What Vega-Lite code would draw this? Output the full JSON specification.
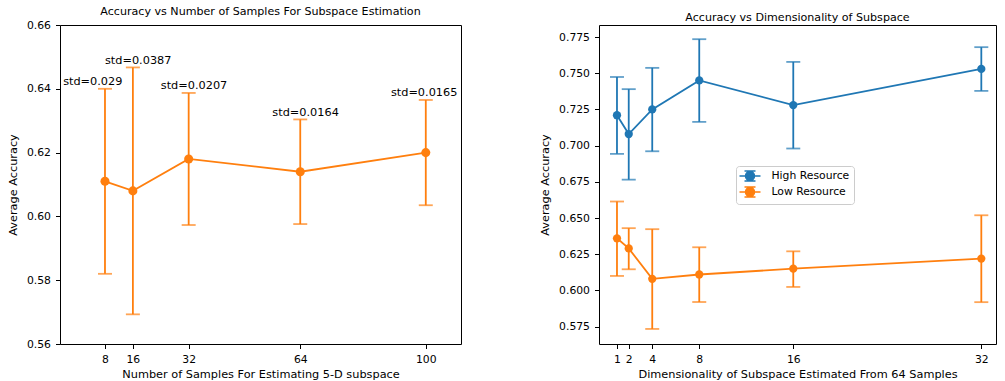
{
  "$schema": "https://vega.github.io/schema/vega-lite/v6.json",
  "padding": {"left": 6, "top": 5, "right": 5, "bottom": 0},
  "background": "white",
  "config": {
    "font": "DejaVu Sans",
    "view": {"stroke": "black", "strokeWidth": 1},
    "axis": {
      "labelFont": "DejaVu Sans", "titleFont": "DejaVu Sans",
      "labelFontSize": 10.8, "titleFontSize": 11.3, "titleFontWeight": "normal",
      "labelColor": "black", "titleColor": "black", "tickColor": "black", "labelOverlap": false,
      "domain": false, "grid": false, "tickSize": 4.5, "labelPadding": 5, "titlePadding": 8
    },
    "axisX": {"titlePadding": 4},
    "legend": {
      "title": null, "orient": "none", "legendX": 676, "legendY": 141, "padding": 4, "strokeColor": "#cccccc", "fillColor": "white", "cornerRadius": 3,
      "labelFont": "DejaVu Sans", "labelFontSize": 10.8, "labelColor": "black", "labelOffset": 15.5, "rowPadding": 0, "symbolOffset": 4,
      "symbolType": "M-2.1,0H2.1M0,-1V1M-1.1,-1H1.1M-1.1,1H1.1M0.9,0A0.9,0.9 0 1,1 -0.9,0A0.9,0.9 0 1,1 0.9,0Z",
      "symbolSize": 100, "symbolStrokeWidth": 1.5
    },
    "title": {"font": "DejaVu Sans", "fontSize": 11.1, "fontWeight": "normal", "color": "black", "offset": 2}
  },
  "datasets": {
    "left": [
      {"n": 8, "mean": 0.611, "lo": 0.582, "hi": 0.640, "label": "std=0.029", "label_x": -4},
      {"n": 16, "mean": 0.608, "lo": 0.5693, "hi": 0.6467, "label": "std=0.0387", "label_x": 8},
      {"n": 32, "mean": 0.618, "lo": 0.5973, "hi": 0.6387, "label": "std=0.0207", "label_x": 24},
      {"n": 64, "mean": 0.614, "lo": 0.5976, "hi": 0.6304, "label": "std=0.0164", "label_x": 56},
      {"n": 100, "mean": 0.620, "lo": 0.6035, "hi": 0.6365, "label": "std=0.0165", "label_x": 90}
    ],
    "right": [
      {"series": "High Resource", "d": 1, "mean": 0.721, "lo": 0.6943, "hi": 0.7474},
      {"series": "High Resource", "d": 2, "mean": 0.708, "lo": 0.6765, "hi": 0.7390},
      {"series": "High Resource", "d": 4, "mean": 0.725, "lo": 0.6961, "hi": 0.7537},
      {"series": "High Resource", "d": 8, "mean": 0.745, "lo": 0.7164, "hi": 0.7735},
      {"series": "High Resource", "d": 16, "mean": 0.728, "lo": 0.6980, "hi": 0.7578},
      {"series": "High Resource", "d": 32, "mean": 0.753, "lo": 0.7378, "hi": 0.7680},
      {"series": "Low Resource", "d": 1, "mean": 0.636, "lo": 0.6100, "hi": 0.6614},
      {"series": "Low Resource", "d": 2, "mean": 0.629, "lo": 0.6146, "hi": 0.6430},
      {"series": "Low Resource", "d": 4, "mean": 0.608, "lo": 0.5734, "hi": 0.6423},
      {"series": "Low Resource", "d": 8, "mean": 0.611, "lo": 0.5920, "hi": 0.6298},
      {"series": "Low Resource", "d": 16, "mean": 0.615, "lo": 0.6024, "hi": 0.6270},
      {"series": "Low Resource", "d": 32, "mean": 0.622, "lo": 0.5919, "hi": 0.6519}
    ]
  },
  "spacing": 77,
  "hconcat": [
    {
      "width": 401, "height": 319,
      "title": "Accuracy vs Number of Samples For Subspace Estimation",
      "data": {"name": "left"},
      "layer": [
        {
          "mark": {"type": "rule", "color": "#ff7f0e", "strokeWidth": 1.8},
          "encoding": {
            "x": {"field": "n", "type": "quantitative", "scale": {"domain": [-4.9, 110.1], "nice": false, "zero": false}, "axis": {"values": [8, 16, 32, 64, 100]}, "title": "Number of Samples For Estimating 5-D subspace"},
            "y": {"field": "lo", "type": "quantitative", "scale": {"domain": [0.56, 0.66], "nice": false, "zero": false}, "axis": {"values": [0.56, 0.58, 0.6, 0.62, 0.64, 0.66], "format": ".2f"}, "title": "Average Accuracy"},
            "y2": {"field": "hi"}
          }
        },
        {
          "mark": {"type": "tick", "orient": "horizontal", "color": "#ff7f0e", "size": 14, "thickness": 1.8},
          "encoding": {
            "x": {"field": "n", "type": "quantitative", "title": "Number of Samples For Estimating 5-D subspace"},
            "y": {"field": "lo", "type": "quantitative", "title": "Average Accuracy"}
          }
        },
        {
          "mark": {"type": "tick", "orient": "horizontal", "color": "#ff7f0e", "size": 14, "thickness": 1.8},
          "encoding": {
            "x": {"field": "n", "type": "quantitative", "title": "Number of Samples For Estimating 5-D subspace"},
            "y": {"field": "hi", "type": "quantitative", "title": "Average Accuracy"}
          }
        },
        {
          "mark": {"type": "line", "color": "#ff7f0e", "strokeWidth": 1.8},
          "encoding": {
            "x": {"field": "n", "type": "quantitative", "title": "Number of Samples For Estimating 5-D subspace"},
            "y": {"field": "mean", "type": "quantitative", "title": "Average Accuracy"}
          }
        },
        {
          "mark": {"type": "point", "filled": true, "opacity": 1, "color": "#ff7f0e", "size": 82},
          "encoding": {
            "x": {"field": "n", "type": "quantitative", "title": "Number of Samples For Estimating 5-D subspace"},
            "y": {"field": "mean", "type": "quantitative", "title": "Average Accuracy"}
          }
        },
        {
          "mark": {"type": "text", "align": "left", "baseline": "alphabetic", "dy": -3.5, "fontSize": 11.3, "font": "DejaVu Sans", "color": "black"},
          "encoding": {
            "x": {"field": "label_x", "type": "quantitative", "title": "Number of Samples For Estimating 5-D subspace"},
            "y": {"field": "hi", "type": "quantitative", "title": "Average Accuracy"},
            "text": {"field": "label"}
          }
        }
      ]
    },
    {
      "width": 397, "height": 319,
      "title": "Accuracy vs Dimensionality of Subspace",
      "data": {"name": "right"},
      "layer": [
        {
          "mark": {"type": "rule", "strokeWidth": 1.8},
          "encoding": {
            "x": {"field": "d", "type": "quantitative", "scale": {"domain": [-0.53, 33.25], "nice": false, "zero": false}, "axis": {"values": [1, 2, 4, 8, 16, 32]}, "title": "Dimensionality of Subspace Estimated From 64 Samples"},
            "y": {"field": "lo", "type": "quantitative", "scale": {"domain": [0.563, 0.7833], "nice": false, "zero": false}, "axis": {"values": [0.575, 0.6, 0.625, 0.65, 0.675, 0.7, 0.725, 0.75, 0.775], "format": ".3f", "labelOverlap": false, "tickCount": 9}, "title": "Average Accuracy"},
            "y2": {"field": "hi"},
            "stroke": {"field": "series", "type": "nominal", "scale": {"domain": ["High Resource", "Low Resource"], "range": ["#1f77b4", "#ff7f0e"]}}
          }
        },
        {
          "mark": {"type": "tick", "orient": "horizontal", "size": 14, "thickness": 1.8},
          "encoding": {
            "x": {"field": "d", "type": "quantitative", "title": "Dimensionality of Subspace Estimated From 64 Samples"},
            "y": {"field": "lo", "type": "quantitative", "title": "Average Accuracy"},
            "fill": {"field": "series", "type": "nominal", "scale": {"domain": ["High Resource", "Low Resource"], "range": ["#1f77b4", "#ff7f0e"]}}
          }
        },
        {
          "mark": {"type": "tick", "orient": "horizontal", "size": 14, "thickness": 1.8},
          "encoding": {
            "x": {"field": "d", "type": "quantitative", "title": "Dimensionality of Subspace Estimated From 64 Samples"},
            "y": {"field": "hi", "type": "quantitative", "title": "Average Accuracy"},
            "fill": {"field": "series", "type": "nominal"}
          }
        },
        {
          "mark": {"type": "line", "strokeWidth": 1.8},
          "encoding": {
            "x": {"field": "d", "type": "quantitative", "title": "Dimensionality of Subspace Estimated From 64 Samples"},
            "y": {"field": "mean", "type": "quantitative", "title": "Average Accuracy"},
            "stroke": {"field": "series", "type": "nominal"}
          }
        },
        {
          "mark": {"type": "point", "filled": true, "opacity": 1, "size": 68, "strokeWidth": 0},
          "encoding": {
            "x": {"field": "d", "type": "quantitative", "title": "Dimensionality of Subspace Estimated From 64 Samples"},
            "y": {"field": "mean", "type": "quantitative", "title": "Average Accuracy"},
            "fill": {"field": "series", "type": "nominal"},
            "stroke": {"field": "series", "type": "nominal"}
          }
        }
      ]
    }
  ]
}
